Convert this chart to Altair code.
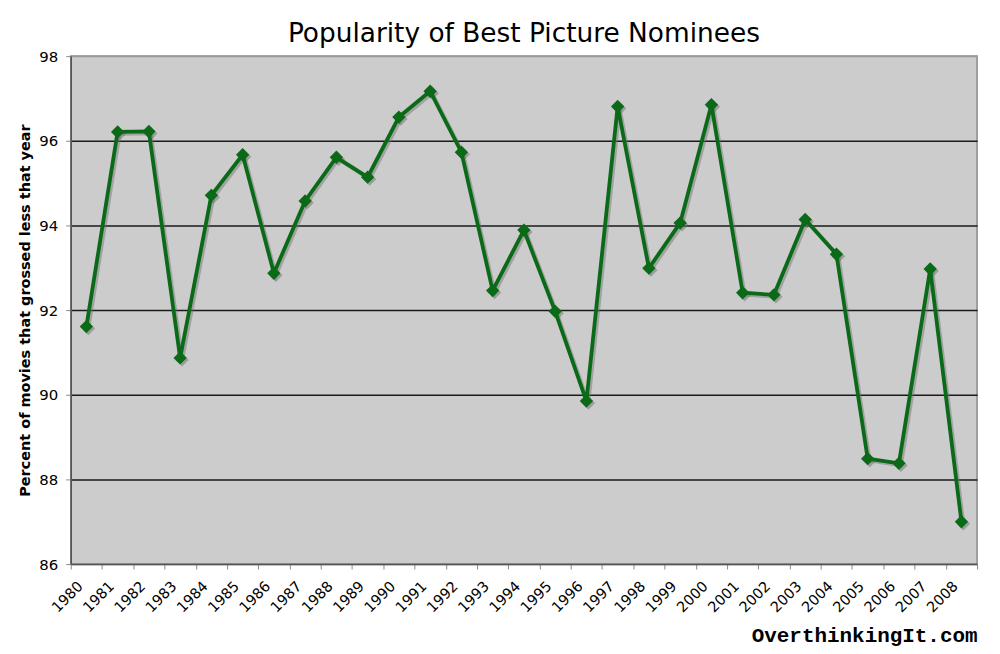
import altair as alt
import pandas as pd

years = ["1980", "1981", "1982", "1983", "1984", "1985", "1986", "1987", "1988", "1989",
         "1990", "1991", "1992", "1993", "1994", "1995", "1996", "1997", "1998", "1999",
         "2000", "2001", "2002", "2003", "2004", "2005", "2006", "2007", "2008"]
percent = [91.61, 96.21, 96.22, 90.87, 94.71, 95.67, 92.87, 94.58, 95.61, 95.14,
           96.56, 97.17, 95.73, 92.46, 93.89, 91.97, 89.85, 96.81, 92.99, 94.06,
           96.85, 92.41, 92.36, 94.14, 93.32, 88.49, 88.38, 92.97, 87.00]
y_ticks = [86, 88, 90, 92, 94, 96, 98]

df = pd.DataFrame({"year": years, "pct": percent})

GREEN = "#0b6a17"

x_enc = alt.X(
    "year:O",
    sort=years,
    scale=alt.Scale(paddingInner=0, paddingOuter=0),
    axis=alt.Axis(
        title="OverthinkingIt.com",
        titleFont="Liberation Mono",
        titleFontWeight="bold",
        titleFontSize=21,
        titleColor="#000000",
        titleAnchor="end",
        titleAlign="right",
        titleBaseline="alphabetic",
        titleY=78,
        tickBand="extent",
        labelAngle=-45,
        labelAlign="right",
        labelBaseline="middle",
        labelOffset=-6,
        labelPadding=15,
        labelFont="DejaVu Sans",
        labelFontSize=14.5,
        labelColor="#000000",
        tickColor="#888888",
        tickSize=5,
        domainColor="#555555",
        domainWidth=1.5,
        grid=False,
    ),
)
y_enc = alt.Y(
    "pct:Q",
    scale=alt.Scale(domain=[86, 98], nice=False, zero=False),
    axis=alt.Axis(
        values=y_ticks,
        title="Percent of movies that grossed less that year",
        titleFont="DejaVu Sans",
        titleFontWeight="bold",
        titleFontSize=14.5,
        titleColor="#000000",
        titleAngle=-90,
        titleBaseline="middle",
        titleAlign="center",
        titleX=-45,
        titleY=255,
        labelFont="DejaVu Sans",
        labelFontSize=15,
        labelColor="#000000",
        labelPadding=8,
        tickColor="#888888",
        tickSize=5,
        domainColor="#555555",
        domainWidth=1.5,
        grid=True,
        gridColor={"condition": {"test": "datum.value >= 98 || datum.value <= 86", "value": "#999999"},
                   "value": "#1a1a1a"},
        gridWidth=1.5,
    ),
)

base = alt.Chart(df)

shadow_line = base.mark_line(color="#6e6e6e", strokeWidth=3.8, opacity=0.45, xOffset=2, yOffset=2).encode(x=x_enc, y=y_enc)
shadow_pts = base.mark_point(shape="diamond", filled=True, size=180, color="#6e6e6e", opacity=0.5, xOffset=2, yOffset=2).encode(x=x_enc, y=y_enc)
line = base.mark_line(color=GREEN, strokeWidth=3.8).encode(x=x_enc, y=y_enc)
pts = base.mark_point(shape="diamond", filled=True, size=180, color=GREEN, opacity=1).encode(x=x_enc, y=y_enc)

chart = alt.layer(shadow_line, shadow_pts, line, pts).properties(
    width=910,
    height=510,
    autosize=alt.AutoSizeParams(type="none"),
    padding={"left": 63, "top": 47, "right": 15, "bottom": 88},
    background="#ffffff",
    title=alt.TitleParams(
        "Popularity of Best Picture Nominees",
        font="DejaVu Sans",
        fontSize=26.5,
        fontWeight="normal",
        color="#000000",
        anchor="middle",
        baseline="bottom",
        offset=9,
        dy=34,
    ),
).configure_view(
    fill="#cccccc",
    stroke="#8a8a8a",
    strokeWidth=1.5,
)

chart.save("out.html", embed_options={"renderer": "svg", "actions": False})
